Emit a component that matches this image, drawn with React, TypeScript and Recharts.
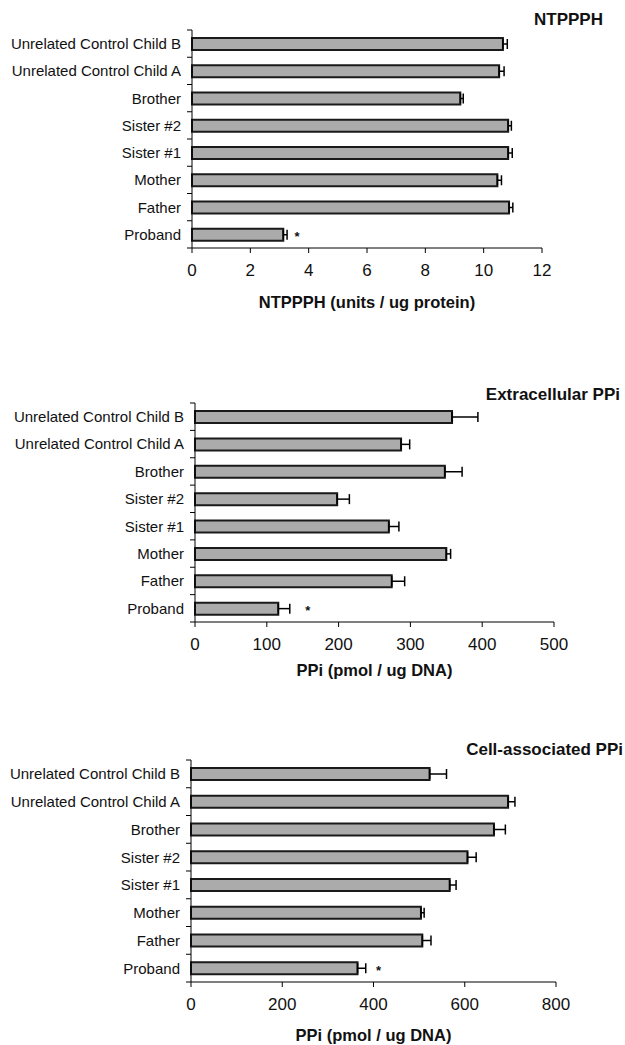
import React from 'react';
import { BarChart, Bar, XAxis, YAxis, ErrorBar, ReferenceDot } from 'recharts';

const categories = [
  'Unrelated Control Child B',
  'Unrelated Control Child A',
  'Brother',
  'Sister #2',
  'Sister #1',
  'Mother',
  'Father',
  'Proband',
];

// NTPPPH (units / ug protein)
const ntppphMean = [10.66, 10.53, 9.2, 10.84, 10.84, 10.47, 10.87, 3.13];
const ntppphErr = [0.15, 0.17, 0.1, 0.11, 0.14, 0.14, 0.13, 0.13];
const ntppphTicks = [0, 2, 4, 6, 8, 10, 12];

// Extracellular PPi (pmol / ug DNA)
const extraMean = [358, 287, 348, 198, 270, 350, 274, 116];
const extraErr = [36, 12, 24, 17, 14, 6, 18, 16];
const extraTicks = [0, 100, 200, 300, 400, 500];

// Cell-associated PPi (pmol / ug DNA)
const cellMean = [523, 695, 664, 606, 567, 504, 507, 365];
const cellErr = [37, 15, 25, 19, 14, 7, 19, 18];
const cellTicks = [0, 200, 400, 600, 800];

// x position of the significance asterisk next to Proband
const starX = [3.6, 157, 411];

const FONT = '"Liberation Sans", Arial, sans-serif';

const toRows = (means: number[], errs: number[]) =>
  categories.map((name, i) => ({ name, value: means[i], err: [0, errs[i]] }));

const CategoryTick = (props: any) => {
  const { x, y, payload, index, visibleTicksCount } = props;
  const half = payload.offset || 13.6;
  return (
    <g>
      <line x1={x - 5} x2={x} y1={y - half} y2={y - half} stroke="#000" />
      {index === visibleTicksCount - 1 && (
        <line x1={x - 5} x2={x} y1={y + half} y2={y + half} stroke="#000" />
      )}
      <text x={x - 11} y={y} dy="0.36em" textAnchor="end" fontSize={15} fill="#111" fontFamily={FONT}>
        {payload.value}
      </text>
    </g>
  );
};

const Star = (props: any) => (
  <text x={props.cx} y={props.cy + 7} textAnchor="middle" fontSize={13} fontWeight="bold" fill="#111" fontFamily={FONT}>
    *
  </text>
);

interface PanelProps {
  top: number;
  height: number;
  title: string;
  titleRight: number;
  titleTop: number;
  rows: any[];
  ticks: number[];
  yWidth: number;
  margin: { top: number; right: number; left: number; bottom: number };
  xHeight: number;
  axisLabel: string;
  labelOffset: number;
  star: number;
}

function Panel(p: PanelProps) {
  return (
    <div style={{ position: 'absolute', left: 0, top: p.top, width: 625, height: p.height }}>
      <div
        style={{
          position: 'absolute',
          right: p.titleRight,
          top: p.titleTop,
          fontSize: 17,
          lineHeight: '18px',
          fontWeight: 'bold',
          color: '#111',
          whiteSpace: 'nowrap',
        }}
      >
        {p.title}
      </div>
      <BarChart width={625} height={p.height} data={p.rows} layout="vertical" margin={p.margin}>
        <XAxis
          type="number"
          domain={[0, p.ticks[p.ticks.length - 1]]}
          ticks={p.ticks}
          height={p.xHeight}
          axisLine={{ stroke: '#000' }}
          tickLine={{ stroke: '#000' }}
          tickSize={5}
          tickMargin={11}
          tick={{ fontSize: 17, fill: '#111', fontFamily: FONT }}
          label={{
            value: p.axisLabel,
            position: 'insideBottom',
            offset: p.labelOffset,
            fontSize: 16.5,
            fontWeight: 'bold',
            fill: '#111',
            fontFamily: FONT,
          }}
        />
        <YAxis
          type="category"
          dataKey="name"
          width={p.yWidth}
          interval={0}
          tickSize={0}
          tickMargin={0}
          tickLine={false}
          axisLine={{ stroke: '#000' }}
          tick={<CategoryTick />}
        />
        <Bar dataKey="value" fill="#ababab" stroke="#1a1a1a" strokeWidth={2} barSize={12} isAnimationActive={false}>
          <ErrorBar dataKey="err" direction="x" width={5} stroke="#000" strokeWidth={1.5} isAnimationActive={false} />
        </Bar>
        <ReferenceDot x={p.star} y="Proband" r={2} shape={<Star />} ifOverflow="visible" />
      </BarChart>
    </div>
  );
}

export default function App() {
  return (
    <div
      style={{
        position: 'absolute',
        left: 0,
        top: 0,
        width: 625,
        height: 1045,
        background: '#fff',
        fontFamily: FONT,
      }}
    >
      <Panel
        top={0}
        height={320}
        title="NTPPPH"
        titleRight={22}
        titleTop={11}
        rows={toRows(ntppphMean, ntppphErr)}
        ticks={ntppphTicks}
        yWidth={192}
        margin={{ top: 30, right: 83, left: 0, bottom: 2 }}
        xHeight={70}
        axisLabel="NTPPPH (units / ug protein)"
        labelOffset={10}
        star={starX[0]}
      />
      <Panel
        top={360}
        height={320}
        title="Extracellular PPi"
        titleRight={5}
        titleTop={26}
        rows={toRows(extraMean, extraErr)}
        ticks={extraTicks}
        yWidth={195}
        margin={{ top: 43, right: 71, left: 0, bottom: 2 }}
        xHeight={56}
        axisLabel="PPi (pmol / ug DNA)"
        labelOffset={2}
        star={starX[1]}
      />
      <Panel
        top={720}
        height={325}
        title="Cell-associated PPi"
        titleRight={2}
        titleTop={21}
        rows={toRows(cellMean, cellErr)}
        ticks={cellTicks}
        yWidth={191}
        margin={{ top: 40, right: 69, left: 0, bottom: 2 }}
        xHeight={61}
        axisLabel="PPi (pmol / ug DNA)"
        labelOffset={2}
        star={starX[2]}
      />
    </div>
  );
}
